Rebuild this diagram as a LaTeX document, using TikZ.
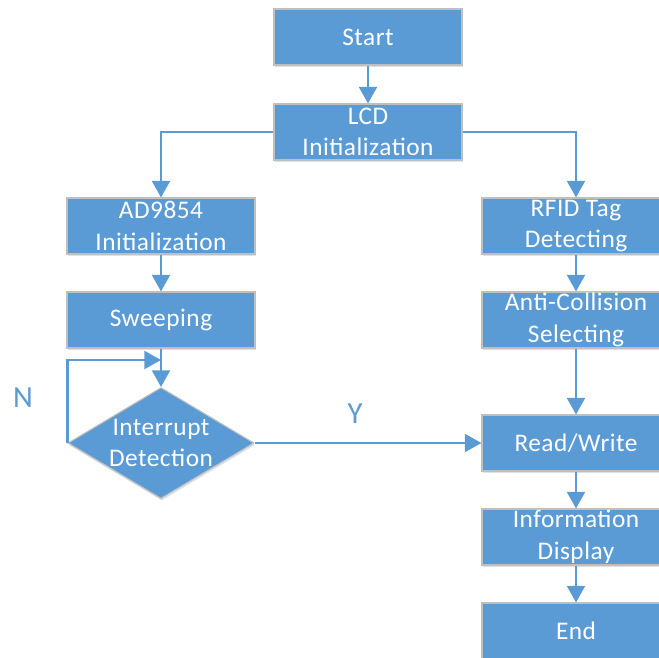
\documentclass[tikz,border=0pt]{standalone}
\usepackage{fontspec}
\setmainfont{Carlito}[LetterSpace=2]
\usepackage{xcolor}
\usetikzlibrary{shapes.geometric, arrows.meta, shadows}

\definecolor{boxblue}{HTML}{5B9BD5}
\definecolor{boxedge}{HTML}{BFBFBF}

\begin{document}
\begin{tikzpicture}[
    x=0.75pt, y=-0.75pt,
    every node/.style={font=\fontsize{19}{23.7}\selectfont},
    stepbox/.style={rectangle, draw=boxedge, line width=0.8pt, fill=boxblue, text=white,
        minimum width=141pt, minimum height=42pt, inner sep=0pt, align=center,
        drop shadow={shadow xshift=0.6pt, shadow yshift=-1.6pt, opacity=0.18, fill=boxblue!60!black}},
    decide/.style={diamond, shape aspect=1.68, draw=boxedge, line width=0.8pt, fill=boxblue, text=white,
        minimum width=139.5pt, minimum height=83.25pt, inner sep=-3pt, align=center,
        drop shadow={shadow xshift=0.6pt, shadow yshift=-1.6pt, opacity=0.18, fill=boxblue!60!black}},
    flow/.style={draw=boxblue, line width=1.8pt, -{Triangle[width=13.5pt, length=12.5pt]}},
    answer/.style={text=boxblue, anchor=base, font=\fontsize{23}{28}\selectfont}
]
    \useasboundingbox (0,0) rectangle (659,657);

    \node[stepbox] (start) at (368,37) {Start};
    \node[stepbox] (lcd) at (368,132) {LCD\\Initialization};

    \node[stepbox] (ad) at (161,226) {AD9854\\Initialization};
    \node[stepbox] (sweep) at (161,320) {Sweeping};
    \node[decide] (intr) at (161,443) {Interrupt\\Detection};
    \coordinate (back) at (161,360);

    \node[stepbox] (rfid) at (576,226) {RFID Tag\\Detecting};
    \node[stepbox] (anti) at (576,320) {Anti-Collision\\Selecting};
    \node[stepbox] (rw) at (576,443) {Read/Write};
    \node[stepbox] (info) at (576,537) {Information\\Display};
    \node[stepbox] (stop) at (576,631) {End};

    \draw[flow] (start) -- (lcd);
    \draw[flow] (lcd.west) -| (ad);
    \draw[flow] (lcd.east) -| (rfid);
    \draw[flow] (ad) -- (sweep);
    \draw[flow] (sweep) -- (intr);
    \draw[flow] (intr.west) |- (back);
    \draw[flow] (intr.east) -- (rw.west);
    \draw[flow] (rfid) -- (anti);
    \draw[flow] (anti) -- (rw);
    \draw[flow] (rw) -- (info);
    \draw[flow] (info) -- (stop);

    \node[answer] (no) at (23,407) {N};
    \node[answer] (yes) at (355,423) {Y};
\end{tikzpicture}
\end{document}
